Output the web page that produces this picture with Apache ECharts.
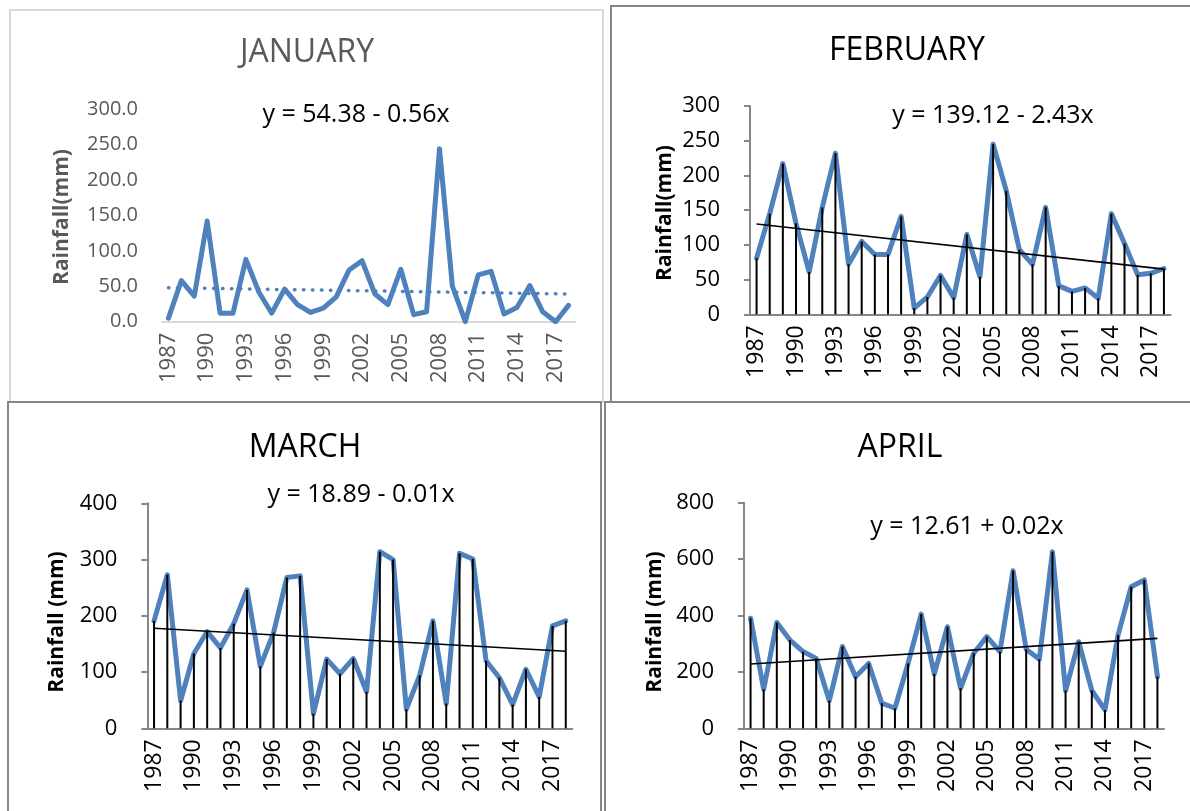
<!DOCTYPE html>
<html>
<head>
<meta charset="utf-8">
<script src="https://cdn.jsdelivr.net/npm/echarts@6/dist/echarts.min.js"></script>
<style>
html,body{margin:0;padding:0;background:#fff;}
#c{width:1190px;height:811px;}
</style>
</head>
<body>
<div id="c"></div>
<script>
// ---- data ----
const years = ['1987','1988','1989','1990','1991','1992','1993','1994','1995','1996','1997','1998','1999','2000','2001','2002','2003','2004','2005','2006','2007','2008','2009','2010','2011','2012','2013','2014','2015','2016','2017','2018'];
const janRain = [5, 58, 36, 142, 12, 12, 88, 42, 12, 46, 24, 13, 19, 35, 73, 86, 39, 24, 74, 10, 14, 244, 50, 0, 66, 71, 11, 20, 51, 14, 0, 23];
const febRain = [81, 145, 217, 131, 61, 154, 232, 72, 105, 86, 86, 141, 9, 25, 56, 24, 115, 54, 245, 178, 93, 72, 154, 41, 33, 38, 23, 145, 102, 57, 59, 66];
const marRain = [191, 273, 49, 133, 172, 143, 186, 246, 110, 170, 268, 271, 26, 123, 97, 124, 65, 314, 300, 34, 94, 191, 44, 311, 301, 120, 90, 42, 105, 56, 182, 191];
const aprRain = [390, 138, 375, 313, 272, 248, 98, 290, 183, 230, 89, 71, 230, 405, 193, 360, 142, 266, 325, 272, 559, 280, 245, 626, 134, 307, 134, 65, 331, 502, 526, 183];
// trend line end points (first year, last year)
const janTrend = [48, 39];
const febTrend = [130, 65];
const marTrend = [178, 137];
const aprTrend = [228, 319];
const titles = ['JANUARY', 'FEBRUARY', 'MARCH', 'APRIL'];
const equations = ['y = 54.38 - 0.56x', 'y = 139.12 - 2.43x', 'y = 18.89 - 0.01x', 'y = 12.61 + 0.02x'];
const yNames = ['Rainfall(mm)', 'Rainfall(mm)', 'Rainfall (mm)', 'Rainfall (mm)'];
const yMax = [300, 300, 400, 800];
const yStep = [50, 50, 100, 200];

// ---- build ----
const FONT = "'Open Sans', 'Noto Sans', sans-serif";
const BLUE = '#4f81bd';
const GREY_TXT = '#595959';
const grids = [
  {left: 162, top: 109, width: 413, height: 212.7},
  {left: 750, top: 106, width: 420.5, height: 208.3},
  {left: 147.4, top: 503.3, width: 425, height: 225},
  {left: 744, top: 502.7, width: 420, height: 225.6}
];
function trendData(ends) {
  return years.map((y, i) => i === 0 ? ends[0] : (i === years.length - 1 ? ends[1] : null));
}
const rains = [janRain, febRain, marRain, aprRain];
const trends = [janTrend, febTrend, marTrend, aprTrend];

const xAxis = [], yAxis = [], series = [];
for (let k = 0; k < 4; k++) {
  const jan = k === 0;
  xAxis.push({
    type: 'category', gridIndex: k, data: years, boundaryGap: true,
    axisLine: {show: true, lineStyle: {color: jan ? '#d9d9d9' : '#868686', width: 2}},
    axisTick: {show: false},
    axisLabel: {interval: 2, rotate: 90, margin: 11, color: jan ? GREY_TXT : '#000', fontSize: jan ? 22 : 23, fontFamily: FONT},
    splitLine: {show: false}
  });
  yAxis.push({
    type: 'value', gridIndex: k, min: 0, max: yMax[k], interval: yStep[k],
    axisLine: {show: !jan, lineStyle: {color: '#868686', width: 2}},
    axisTick: {show: !jan, inside: false, length: 6, lineStyle: {color: '#868686', width: 2}},
    axisLabel: {margin: jan ? 24 : 30, color: jan ? GREY_TXT : '#000', fontSize: jan ? 20 : 22, fontFamily: FONT,
      formatter: jan ? (v => v.toFixed(1)) : (v => String(v))},
    splitLine: {show: false}
  });
  series.push({
    type: 'line', xAxisIndex: k, yAxisIndex: k, data: rains[k], symbol: 'none',
    lineStyle: {color: BLUE, width: 5, join: 'round', cap: 'round'}, z: 2, silent: true
  });
  if (!jan) {
    series.push({
      type: 'bar', xAxisIndex: k, yAxisIndex: k, data: rains[k], barWidth: 2,
      itemStyle: {color: '#000'}, z: 3, silent: true
    });
  }
  series.push({
    type: 'line', xAxisIndex: k, yAxisIndex: k, data: trendData(trends[k]), connectNulls: true, symbol: 'none',
    lineStyle: jan ? {color: BLUE, width: 3.5, type: [0.5, 8.5], cap: 'round'} : {color: '#000', width: 1.6},
    z: 4, silent: true
  });
}

const titlePos = [[307, 53], [907, 51], [305, 448], [900, 448]];
const eqPos = [[356, 115], [993, 116], [361, 495], [967, 527]];
const namePos = [[62, 217], [665, 213], [57, 622], [655, 622]];

const graphic = [
  {type: 'rect', shape: {x: 10, y: 10, width: 593, height: 392}, style: {fill: 'none', stroke: '#d9d9d9', lineWidth: 2}, z: -10},
  {type: 'rect', shape: {x: 611, y: 6, width: 600, height: 396}, style: {fill: 'none', stroke: '#868686', lineWidth: 2}, z: -9},
  {type: 'rect', shape: {x: 8, y: 402, width: 593, height: 430}, style: {fill: 'none', stroke: '#868686', lineWidth: 2}, z: -9},
  {type: 'rect', shape: {x: 605, y: 402, width: 600, height: 430}, style: {fill: 'none', stroke: '#868686', lineWidth: 2}, z: -9}
];
for (let k = 0; k < 4; k++) {
  const col = k === 0 ? GREY_TXT : '#000';
  graphic.push({type: 'text', x: titlePos[k][0], y: titlePos[k][1],
    style: {text: titles[k], fill: col, font: '32px ' + FONT, align: 'center', verticalAlign: 'middle'}});
  graphic.push({type: 'text', x: eqPos[k][0], y: eqPos[k][1],
    style: {text: equations[k], fill: '#000', font: '25px ' + FONT, align: 'center', verticalAlign: 'middle'}});
  graphic.push({type: 'text', x: namePos[k][0], y: namePos[k][1], rotation: Math.PI / 2,
    style: {text: yNames[k], fill: col, font: 'bold 21px ' + FONT, align: 'center', verticalAlign: 'middle'}});
}

const chart = echarts.init(document.getElementById('c'));
chart.setOption({
  animation: false,
  backgroundColor: '#fff',
  grid: grids,
  xAxis: xAxis,
  yAxis: yAxis,
  series: series,
  graphic: graphic
});
</script>
</body>
</html>
